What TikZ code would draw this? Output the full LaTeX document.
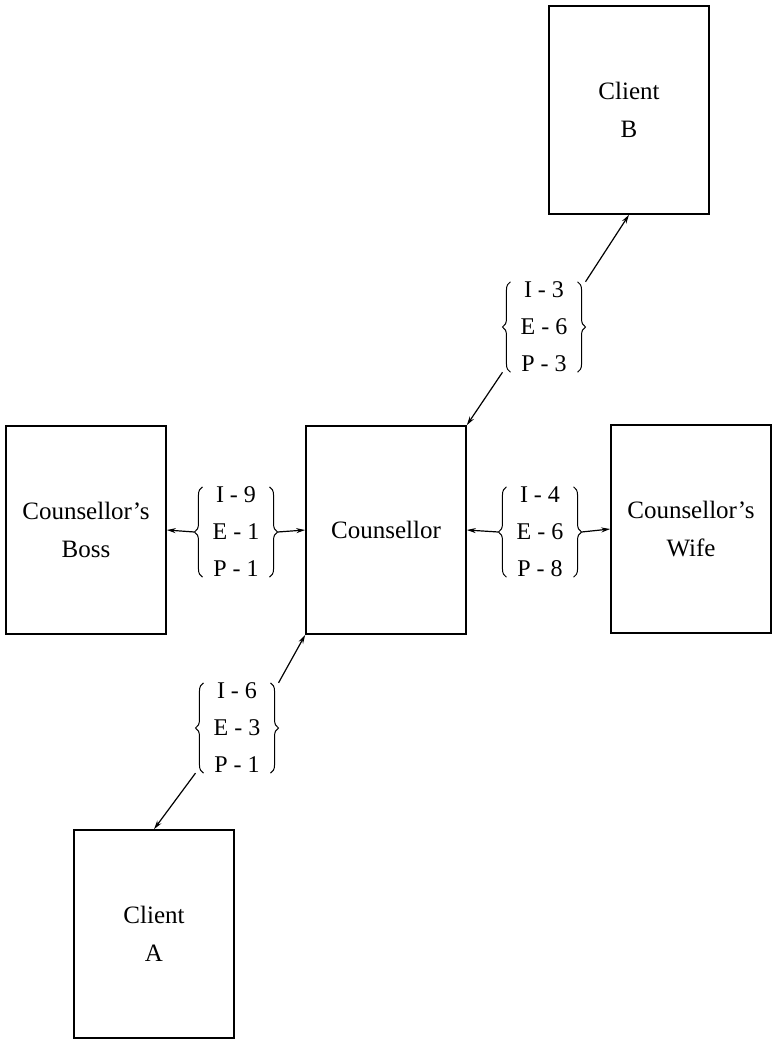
\documentclass[tikz,border=0pt]{standalone}
\usepackage{fontspec}
\setmainfont{Liberation Serif}
\usepackage{tikz}
\usetikzlibrary{arrows.meta,positioning,decorations.pathreplacing}

\begin{document}
\begin{tikzpicture}[x=1pt, y=-1pt, >={Stealth[length=9pt,width=5pt]},
  box/.style={draw, line width=1.6pt, minimum width=160pt, minimum height=208pt, align=center, font=\fontsize{25}{38}\selectfont},
  pair/.style={inner xsep=18pt, inner ysep=0pt, align=center, font=\fontsize{24}{37}\selectfont},
  brace/.style={decorate, decoration={brace, amplitude=8pt}, line width=1pt},
  link/.style={->, line width=1.2pt}]
  \useasboundingbox (0,0) rectangle (774,1042);
  % the five people
  \node[box] (clientB) at (629,110) {Client\\B};
  \node[box] (counsellor) at (386,530) {Counsellor};
  \node[box] (boss) at (86,530) {Counsellor's\\Boss};
  \node[box] (wife) at (691,529) {Counsellor's\\Wife};
  \node[box] (clientA) at (154,934) {Client\\A};
  % I, E, P scores between them
  \node[pair] (lB) at (544,327) {I - 3\\E - 6\\P - 3};
  \node[pair] (lBoss) at (236,532) {I - 9\\E - 1\\P - 1};
  \node[pair] (lWife) at (540,532) {I - 4\\E - 6\\P - 8};
  \node[pair] (lA) at (237,728) {I - 6\\E - 3\\P - 1};
  \foreach \l in {lB,lBoss,lWife,lA}{
    \draw[brace] ([xshift=8pt]\l.south west) -- ([xshift=8pt]\l.north west);
    \draw[brace] ([xshift=-8pt]\l.north east) -- ([xshift=-8pt]\l.south east);
  }
  \draw[link] (lB.north east) -- (clientB.south);
  \draw[link] (lB.south west) -- (counsellor.north east);
  \draw[link] (lBoss.west) -- (boss.east);
  \draw[link] (lBoss.east) -- (counsellor.west);
  \draw[link] (lWife.west) -- (counsellor.east);
  \draw[link] (lWife.east) -- (wife.west);
  \draw[link] (lA.north east) -- (counsellor.south west);
  \draw[link] (lA.south west) -- (clientA.north);
\end{tikzpicture}
\end{document}
